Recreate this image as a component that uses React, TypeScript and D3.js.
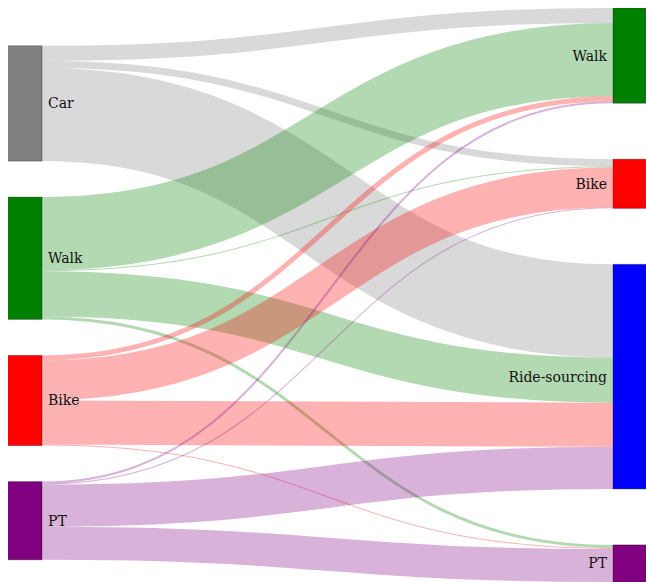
import * as d3 from 'd3';
import React, { useEffect, useRef } from 'react';

// chart data
const sourceModes = ['Car', 'Walk', 'Bike', 'PT'];
const targetModes = ['Walk', 'Bike', 'Ride-sourcing', 'PT'];

// flows from each source mode to targetModes (same order)
const carFlows = [15, 7, 93, 0];
const walkFlows = [73, 1, 45, 3];
const bikeFlows = [5, 40, 44, 1];
const ptFlows = [2, 1, 42, 33];

const modeColors: Record<string, string> = {
    Car: '#808080',
    Walk: '#008000',
    Bike: '#ff0000',
    'Ride-sourcing': '#0000ff',
    PT: '#800080',
};

const width = 638;
const height = 574;
const nodeWidth = 35;
const extentX: [number, number] = [-1, 640];
const nodePadding = [36, 56]; // per column
const columnAlign = [0.63, 0.5]; // where leftover space goes (0 top, 1 bottom)

interface SNode {
    name: string;
    col: number;
    value: number;
    x0: number;
    x1: number;
    y0: number;
    y1: number;
    sourceLinks: SLink[];
    targetLinks: SLink[];
}

interface SLink {
    source: SNode;
    target: SNode;
    value: number;
    width: number;
    y0: number;
    y1: number;
}

// small two-column sankey layout
function layout() {
    const flows = [carFlows, walkFlows, bikeFlows, ptFlows];
    const mk = (name: string, col: number): SNode => ({
        name, col, value: 0, x0: 0, x1: 0, y0: 0, y1: 0, sourceLinks: [], targetLinks: [],
    });
    const left = sourceModes.map((n) => mk(n, 0));
    const right = targetModes.map((n) => mk(n, 1));
    const links: SLink[] = [];
    flows.forEach((row, i) => {
        row.forEach((v, j) => {
            if (v <= 0) return;
            const l: SLink = { source: left[i], target: right[j], value: v, width: 0, y0: 0, y1: 0 };
            left[i].sourceLinks.push(l);
            right[j].targetLinks.push(l);
            links.push(l);
        });
    });
    const columns = [left, right];
    columns.forEach((col) =>
        col.forEach((n) => {
            n.value = Math.max(d3.sum(n.sourceLinks, (l) => l.value), d3.sum(n.targetLinks, (l) => l.value));
        }),
    );
    const ky = d3.min(columns, (col, c) => (height - (col.length - 1) * nodePadding[c]) / d3.sum(col, (n) => n.value))!;
    columns.forEach((col, c) => {
        const x0 = c === 0 ? extentX[0] : extentX[1] - nodeWidth;
        let y = 0;
        col.forEach((n) => {
            n.x0 = x0;
            n.x1 = x0 + nodeWidth;
            n.y0 = y;
            n.y1 = y + n.value * ky;
            y = n.y1 + nodePadding[c];
        });
        const offset = (height - (y - nodePadding[c])) * columnAlign[c];
        col.forEach((n) => {
            n.y0 += offset;
            n.y1 += offset;
        });
    });
    links.forEach((l) => (l.width = l.value * ky));
    columns.flat().forEach((n) => {
        n.sourceLinks.sort((a, b) => a.target.y0 - b.target.y0);
        n.targetLinks.sort((a, b) => a.source.y0 - b.source.y0);
        let y0 = n.y0;
        n.sourceLinks.forEach((l) => {
            l.y0 = y0 + l.width / 2;
            y0 += l.width;
        });
        let y1 = n.y0;
        n.targetLinks.forEach((l) => {
            l.y1 = y1 + l.width / 2;
            y1 += l.width;
        });
    });
    return { nodes: columns.flat(), links };
}

const Sankey = () => {
    const svgRef = useRef<SVGSVGElement | null>(null);

    useEffect(() => {
        const { nodes, links } = layout();
        const svg = d3.select(svgRef.current);
        svg.selectAll('*').remove();

        const linkPath = d3
            .linkHorizontal<SLink, [number, number]>()
            .source((d) => [d.source.x1, d.y0])
            .target((d) => [d.target.x0, d.y1]);

        svg.append('g')
            .attr('fill', 'none')
            .selectAll('path')
            .data(links)
            .join('path')
            .attr('d', linkPath)
            .attr('stroke', (d) => modeColors[d.source.name])
            .attr('stroke-opacity', 0.3)
            .attr('stroke-width', (d) => Math.max(1, d.width));

        svg.append('g')
            .selectAll('rect')
            .data(nodes)
            .join('rect')
            .attr('x', (d) => d.x0)
            .attr('y', (d) => d.y0)
            .attr('width', (d) => d.x1 - d.x0)
            .attr('height', (d) => d.y1 - d.y0)
            .attr('fill', (d) => modeColors[d.name])
            .attr('stroke', '#000')
            .attr('stroke-opacity', 0.3);

        svg.append('g')
            .style('font-family', "'DejaVu Serif', serif")
            .style('font-size', '14px')
            .selectAll('text')
            .data(nodes)
            .join('text')
            .attr('x', (d) => (d.col === 0 ? d.x1 + 6 : d.x0 - 6))
            .attr('y', (d) => (d.y0 + d.y1) / 2)
            .attr('dy', '0.35em')
            .attr('text-anchor', (d) => (d.col === 0 ? 'start' : 'end'))
            .attr('fill', '#111')
            .text((d) => d.name);
    }, []);

    return (
        <svg
            ref={svgRef}
            width={width}
            height={height}
            style={{ position: 'absolute', left: 8, top: 8 }}
        />
    );
};

export default function App() {
    return <Sankey />;
}
